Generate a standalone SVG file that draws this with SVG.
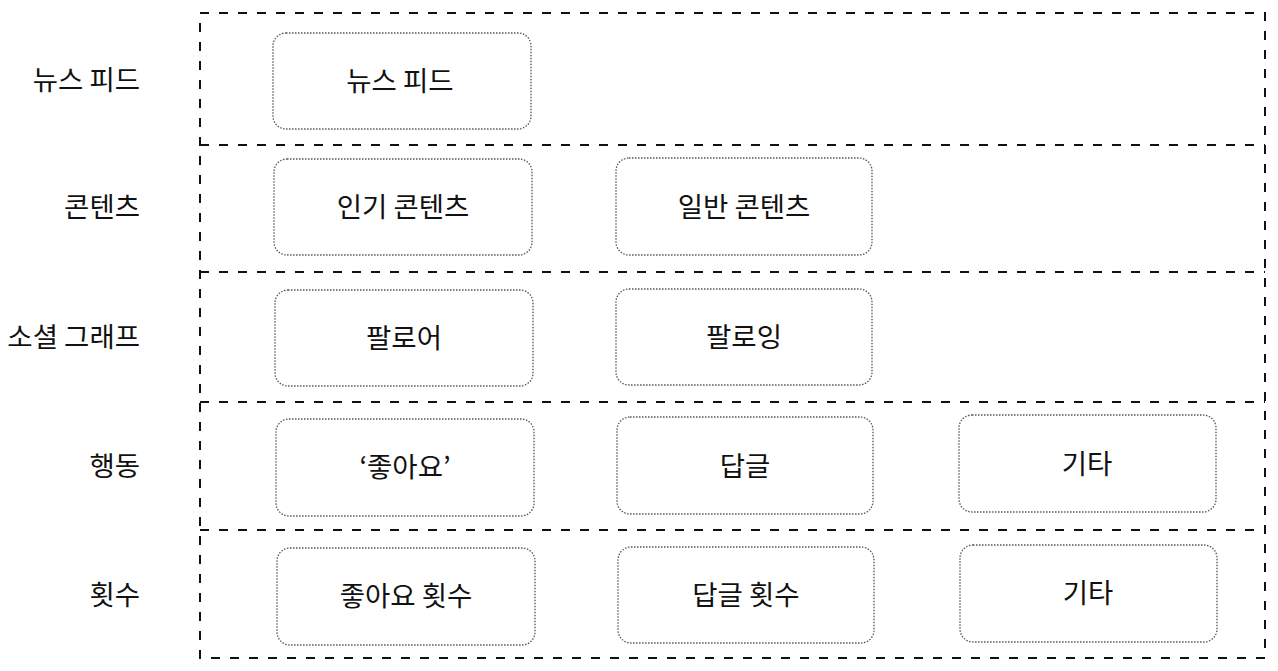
<svg xmlns="http://www.w3.org/2000/svg" width="1278" height="671" viewBox="0 0 1278 671">
<style>
.lane{fill:none;stroke:#111;stroke-width:2;stroke-dasharray:9 10;}
.box{fill:#fff;stroke:#555;stroke-width:1.3;stroke-dasharray:1.5 1.5;}
.t{font-family:"Noto Sans CJK KR","Noto Sans",sans-serif;font-size:27.5px;fill:#111;}
.c{text-anchor:middle;}
.l{text-anchor:end;}
</style>
<rect width="1278" height="671" fill="#fff"/>
<g id="lanes">
<rect class="lane" x="200" y="13" width="1065" height="645"/>
<line class="lane" x1="200" y1="145" x2="1265" y2="145"/>
<line class="lane" x1="200" y1="272" x2="1265" y2="272"/>
<line class="lane" x1="200" y1="402" x2="1265" y2="402"/>
<line class="lane" x1="200" y1="530" x2="1265" y2="530"/>
</g>
<g id="lane-labels">
<text class="t l" x="140" y="90">뉴스 피드</text>
<text class="t l" x="140" y="217">콘텐츠</text>
<text class="t l" x="140" y="347">소셜 그래프</text>
<text class="t l" x="140" y="476">행동</text>
<text class="t l" x="140" y="605">횟수</text>
</g>
<g id="n-newsfeed"><rect class="box" x="273" y="33" width="258" height="96" rx="13"/><text class="t c" x="400" y="91">뉴스 피드</text></g>
<g id="n-popular"><rect class="box" x="274" y="159" width="258" height="96" rx="13"/><text class="t c" x="403" y="217">인기 콘텐츠</text></g>
<g id="n-normal"><rect class="box" x="616" y="158" width="256" height="97" rx="13"/><text class="t c" x="744" y="217">일반 콘텐츠</text></g>
<g id="n-follower"><rect class="box" x="275" y="290" width="258" height="96" rx="13"/><text class="t c" x="404" y="348">팔로어</text></g>
<g id="n-following"><rect class="box" x="616" y="289" width="256" height="96" rx="13"/><text class="t c" x="744" y="347">팔로잉</text></g>
<g id="n-like"><rect class="box" x="276" y="419" width="258" height="97" rx="13"/><text class="t c" x="405" y="477">‘좋아요’</text></g>
<g id="n-reply"><rect class="box" x="617" y="417" width="256" height="97" rx="13"/><text class="t c" x="745" y="476">답글</text></g>
<g id="n-etc1"><rect class="box" x="959" y="415" width="257" height="97" rx="13"/><text class="t c" x="1087" y="474">기타</text></g>
<g id="n-likecount"><rect class="box" x="277" y="548" width="258" height="97" rx="13"/><text class="t c" x="406" y="606">좋아요 횟수</text></g>
<g id="n-replycount"><rect class="box" x="618" y="547" width="256" height="96" rx="13"/><text class="t c" x="746" y="605">답글 횟수</text></g>
<g id="n-etc2"><rect class="box" x="960" y="545" width="257" height="97" rx="13"/><text class="t c" x="1088" y="603">기타</text></g>
<g id="connectors"/>
</svg>
